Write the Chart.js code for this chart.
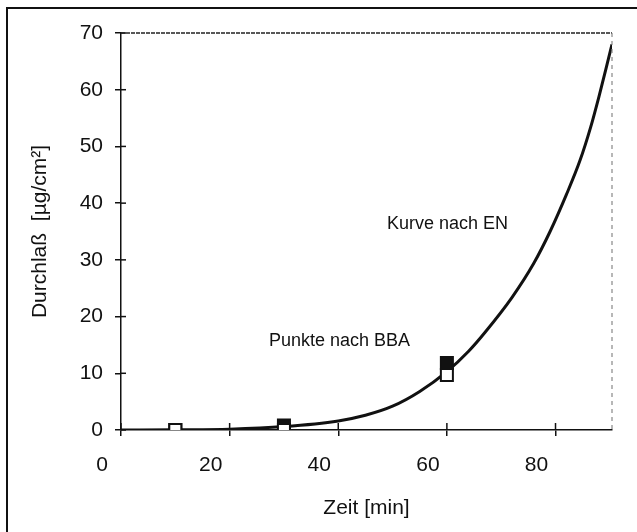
<!DOCTYPE html>
<html>
<head>
<meta charset="utf-8">
<script src="https://cdn.jsdelivr.net/npm/chart.js@4.4.1/dist/chart.umd.min.js"></script>
<style>
    body { margin: 0; background: #fff; }
    #wrap { position: relative; width: 637px; height: 532px; }
    #frame { position: absolute; left: 6px; top: 7px; right: -10px; bottom: -10px; border-left: 2px solid #111; border-top: 2px solid #111; pointer-events: none; }
</style>
</head>
<body>
<div id="wrap">
    <canvas id="chart"></canvas>
    <div id="frame"></div>
</div>
<script>
// Kurve nach EN
const curveX = [0, 10, 20, 30, 40, 45, 50, 55, 60, 64, 67, 72, 76, 79, 82, 84.5, 86.5, 88, 89.5, 90.4];
const curveY = [0, 0.05, 0.15, 0.6, 1.6, 2.6, 4.2, 6.8, 10.3, 13.9, 17.2, 23.4, 29.4, 35, 41.5, 47.5, 53.5, 58.8, 64.5, 68];

// Punkte nach BBA
const openX = [10, 30, 60];
const openY = [0, 0, 9.7];
const filledX = [10, 30, 60];
const filledY = [0, 0.8, 11.8];

const xTicks = [0, 20, 40, 60, 80];
const yTicks = [0, 10, 20, 30, 40, 50, 60, 70];

const font = { family: 'Liberation Sans, Arial, sans-serif', size: 21 };
const ink = '#111';

const toPoints = (xs, ys) => xs.map((x, i) => ({ x: x, y: ys[i] }));

// inner half of the crossing tick marks, plus the light frame on top and right
const frameAndTicks = {
    id: 'frameAndTicks',
    afterDraw: (chart) => {
        const { ctx, chartArea: a, scales } = chart;
        ctx.save();
        ctx.strokeStyle = ink;
        ctx.lineWidth = 1.5;
        scales.x.ticks.forEach((t) => {
            const px = scales.x.getPixelForValue(t.value);
            ctx.beginPath();
            ctx.moveTo(px, a.bottom);
            ctx.lineTo(px, a.bottom - 7);
            ctx.stroke();
        });
        scales.y.ticks.forEach((t) => {
            const py = scales.y.getPixelForValue(t.value);
            ctx.beginPath();
            ctx.moveTo(a.left, py);
            ctx.lineTo(a.left + 5, py);
            ctx.stroke();
        });
        ctx.lineWidth = 1.5;
        ctx.strokeStyle = '#222';
        ctx.setLineDash([4, 1]);
        ctx.beginPath();
        ctx.moveTo(a.left, a.top);
        ctx.lineTo(a.right, a.top);
        ctx.stroke();
        ctx.lineWidth = 1.2;
        ctx.strokeStyle = '#888';
        ctx.setLineDash([4, 4]);
        ctx.beginPath();
        ctx.moveTo(a.right, a.top);
        ctx.lineTo(a.right, a.bottom);
        ctx.stroke();
        ctx.setLineDash([]);

        ctx.fillStyle = ink;
        ctx.font = '18px Liberation Sans, Arial, sans-serif';
        ctx.textBaseline = 'middle';
        ctx.fillText('Kurve nach EN', 387, 224);
        ctx.fillText('Punkte nach BBA', 269, 341);
        ctx.restore();
    }
};

new Chart(document.getElementById('chart').getContext('2d'), {
    type: 'scatter',
    data: {
        datasets: [{
            label: 'BBA offen',
            data: toPoints(openX, openY),
            pointStyle: 'rect',
            pointRadius: 8.5,
            pointBorderWidth: 2,
            pointBorderColor: ink,
            pointBackgroundColor: '#fff',
            showLine: false,
        }, {
            label: 'BBA gefüllt',
            data: toPoints(filledX, filledY),
            pointStyle: 'rect',
            pointRadius: 8.5,
            pointBorderWidth: 2,
            pointBorderColor: ink,
            pointBackgroundColor: ink,
            showLine: false,
        }, {
            label: 'EN',
            data: toPoints(curveX, curveY),
            showLine: true,
            borderColor: ink,
            borderWidth: 3,
            pointRadius: 0,
            cubicInterpolationMode: 'monotone',
        }]
    },
    options: {
        responsive: true,
        maintainAspectRatio: false,
        animation: false,
        layout: { padding: { left: 0, top: 33, right: 25, bottom: 0 } },
        plugins: {
            legend: { display: false },
            tooltip: { enabled: false },
        },
        scales: {
            x: {
                type: 'linear',
                min: 0,
                max: 90.4,
                afterFit: (scale) => { scale.height = 102; },
                afterBuildTicks: (scale) => { scale.ticks = xTicks.map((v) => ({ value: v })); },
                grid: { drawOnChartArea: false, drawTicks: true, tickLength: 6, color: ink, lineWidth: 1.5 },
                border: { color: ink, width: 1.5 },
                ticks: { color: ink, font: font, padding: 17, labelOffset: -19, maxRotation: 0 },
                title: { display: true, text: 'Zeit [min]', color: ink, font: font, padding: { top: 11, bottom: 11 } },
            },
            y: {
                type: 'linear',
                min: 0,
                max: 70,
                afterFit: (scale) => { scale.width = 121; },
                afterBuildTicks: (scale) => { scale.ticks = yTicks.map((v) => ({ value: v })); },
                grid: { drawOnChartArea: false, drawTicks: true, tickLength: 6, color: ink, lineWidth: 1.5 },
                border: { color: ink, width: 1.5 },
                ticks: { color: ink, font: font, padding: 12 },
                title: { display: true, text: 'Durchlaß  [µg/cm²]', color: ink, font: font, padding: { top: 28, bottom: 28 } },
            }
        }
    },
    plugins: [frameAndTicks]
});
</script>
</body>
</html>
